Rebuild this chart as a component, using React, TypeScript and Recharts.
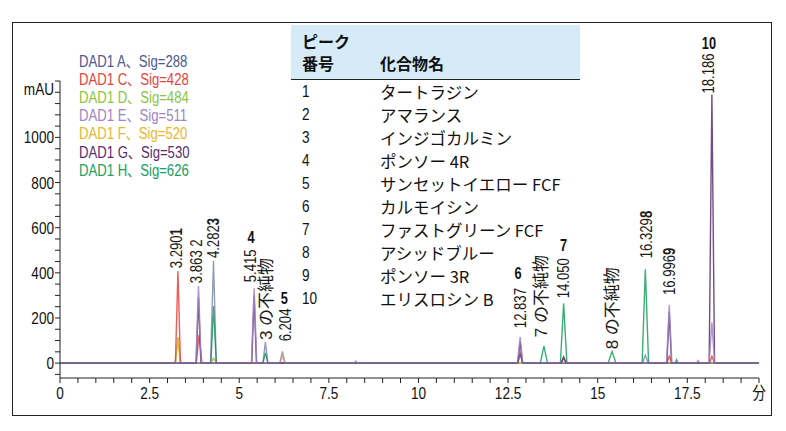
import React from 'react'
import { LineChart, Line, XAxis, YAxis, ReferenceDot } from 'recharts'

const FONT = "'Liberation Sans', 'Noto Sans CJK JP', sans-serif"
const JP = "'Noto Sans CJK JP', sans-serif"
const SQ = 0.8 // horizontal squeeze to mimic a condensed face

// retention time (min), signal (mAU)
const sigA: [number, number][] = [
    [0, 0], [4.2, 0], [4.282, 452], [4.36, 0], [5.66, 0], [5.73, 93], [5.8, 0],
    [12.77, 0], [12.837, 40], [12.91, 0], [16.25, 0], [16.329, 35], [16.41, 0], [19.5, 0],
]
const sigC: [number, number][] = [
    [0, 0], [3.22, 0], [3.29, 407], [3.36, 0], [3.8, 0], [3.88, 125], [3.96, 0],
    [12.77, 0], [12.837, 42], [12.91, 0], [13.98, 0], [14.05, 22], [14.12, 0],
    [16.93, 0], [16.996, 30], [17.07, 0], [18.12, 0], [18.186, 30], [18.26, 0], [19.5, 0],
]
const sigD: [number, number][] = [
    [0, 0], [3.21, 0], [3.29, 115], [3.37, 0], [4.21, 0], [4.282, 22], [4.36, 0], [19.5, 0],
]
const sigE: [number, number][] = [
    [0, 0], [3.79, 0], [3.863, 341], [3.94, 0], [5.34, 0], [5.415, 332], [5.49, 0],
    [6.13, 0], [6.204, 52], [6.28, 0], [8.2, 0], [8.25, 9], [8.3, 0],
    [12.76, 0], [12.837, 115], [12.91, 0], [16.92, 0], [16.996, 257], [17.07, 0],
    [17.75, 0], [17.8, 12], [17.85, 0], [18.11, 0], [18.186, 180], [18.26, 0], [19.5, 0],
]
const sigF: [number, number][] = [
    [0, 0], [3.22, 0], [3.29, 110], [3.36, 0], [6.14, 0], [6.204, 30], [6.27, 0], [19.5, 0],
]
const sigG: [number, number][] = [
    [0, 0], [3.8, 0], [3.863, 290], [3.93, 0], [5.35, 0], [5.415, 300], [5.48, 0],
    [12.77, 0], [12.837, 95], [12.9, 0], [13.98, 0], [14.05, 28], [14.12, 0],
    [16.93, 0], [16.996, 225], [17.06, 0], [18.11, 0], [18.186, 1190], [18.26, 0], [19.5, 0],
]
const sigH: [number, number][] = [
    [0, 0], [4.21, 0], [4.282, 252], [4.36, 0], [5.66, 0], [5.73, 45], [5.8, 0],
    [13.4, 0], [13.5, 75], [13.6, 0], [13.96, 0], [14.05, 265], [14.14, 0],
    [15.29, 0], [15.4, 52], [15.51, 0], [16.24, 0], [16.329, 416], [16.42, 0],
    [17.16, 0], [17.2, 15], [17.24, 0], [19.5, 0],
]

const signalNames = [
    'DAD1 A、Sig=288',
    'DAD1 C、Sig=428',
    'DAD1 D、Sig=484',
    'DAD1 E、Sig=511',
    'DAD1 F、Sig=520',
    'DAD1 G、Sig=530',
    'DAD1 H、Sig=626',
]
const signalData = [sigA, sigC, sigD, sigE, sigF, sigG, sigH]
const signalColors = ['#4b5a8c', '#e8433b', '#8bc540', '#9c84c6', '#e9b62e', '#5a2d6e', '#17a05e']
const drawOrder = [6, 2, 4, 1, 5, 3, 0]

const peakNos = ['1', '2', '3', '4', '5', '6', '7', '8', '9', '10']
const compoundNames = [
    'タートラジン',
    'アマランス',
    'インジゴカルミン',
    'ポンソー 4R',
    'サンセットイエロー FCF',
    'カルモイシン',
    'ファストグリーン FCF',
    'アシッドブルー',
    'ポンソー 3R',
    'エリスロシン B',
]

// peak annotations: apex time / height, retention label, peak number
const peakLabels = [
    { t: 3.29, v: 407, text: '3.290', num: '1' },
    { t: 3.863, v: 341, text: '3.863 ', num: '2' },
    { t: 4.282, v: 452, text: '4.282', num: '3' },
    { t: 5.415, v: 332, text: '5.415', num: '4' },
    { t: 5.73, v: 93, text: '3 の不純物', num: '' },
    { t: 6.204, v: 52, text: '6.204', num: '5' },
    { t: 12.837, v: 115, text: '12.837', num: '6' },
    { t: 13.5, v: 75, text: '7 の不純物', num: '' },
    { t: 14.05, v: 265, text: '14.050', num: '7' },
    { t: 15.4, v: 52, text: '8 の不純物', num: '' },
    { t: 16.329, v: 416, text: '16.329', num: '8' },
    { t: 16.996, v: 257, text: '16.996', num: '9' },
    { t: 18.186, v: 1190, text: '18.186', num: '10' },
]
// layout of each annotation (px)
const labelLayout: any[] = [
    { gap: 3, dx: -1, inline: true, bold: true },
    { gap: 3, dx: -2, inline: true, bold: false },
    { gap: 3, dx: 0, inline: true, bold: true },
    { gap: 6, dx: -4, numDx: -3, numDy: 51 },
    { gap: 2, dx: 1, jp: true },
    { gap: 10, dx: 3, numDx: 2, numDy: 54 },
    { gap: 9, dx: 0, numDx: -2, numDy: 64 },
    { gap: 9, dx: -2, jp: true },
    { gap: 5, dx: 0, numDx: 0, numDy: 59 },
    { gap: 2, dx: 0, jp: true },
    { gap: 11, dx: 1, inline: true, bold: true },
    { gap: 10, dx: 0, inline: true, bold: true },
    { gap: 1, dx: -3, numDx: -3, numDy: 52 },
]

const xTicks = Array.from({ length: 40 }, (_, i) => i * 0.5)
const yTicks = Array.from({ length: 27 }, (_, i) => -50 + i * 50)

const PeakLabel = ({ cx, cy, idx }: { cx: number; cy: number; idx: number }) => {
    const lab = peakLabels[idx]
    const lay = labelLayout[idx]
    const x = cx + lay.dx + 5.5
    const y = cy - lay.gap
    const sq = lay.jp ? 1 : 0.82
    return (
        <g>
            <text
                transform={`translate(${x} ${y}) rotate(-90) scale(${sq} 1)`}
                fontSize={lay.jp ? 17 : 16}
                fontFamily={FONT}
                fill={'#1a1a1a'}
            >
                {lab.text}
                {lay.inline && <tspan fontWeight={lay.bold ? 700 : 400}>{lab.num}</tspan>}
            </text>
            {!lay.inline && lab.num && (
                <text
                    transform={`translate(${cx + lay.numDx} ${cy - lay.numDy}) scale(0.75 1)`}
                    textAnchor={'middle'}
                    dominantBaseline={'central'}
                    fontWeight={700}
                    fontSize={17}
                    fontFamily={FONT}
                    fill={'#111'}
                >
                    {lab.num}
                </text>
            )}
        </g>
    )
}

const XTick = (props: any) => {
    const { x, y, payload } = props
    const v = payload.value
    const label = v === 19.5 ? '分' : v % 2.5 === 0 ? String(v) : ''
    if (!label) return null
    return (
        <text transform={`translate(${x} ${y + 8}) scale(${SQ} 1)`} textAnchor={'middle'} dominantBaseline={'central'} fontSize={17} fontFamily={FONT} fill={'#111'}>
            {label}
        </text>
    )
}

const YTick = (props: any) => {
    const { x, y, payload } = props
    const v = payload.value
    let label = ''
    if (v === 1250) label = 'mAU'
    else if (v >= 0 && v <= 1000 && v % 200 === 0) label = String(v)
    if (!label) return null
    return (
        <text transform={`translate(${x} ${y + (v === 1250 ? 8 : 0)}) scale(${SQ} 1)`} textAnchor={'end'} dominantBaseline={'central'} fontSize={17} fontFamily={FONT} fill={'#111'}>
            {label}
        </text>
    )
}

const squeeze = (s: number): React.CSSProperties => ({ transform: `scaleX(${s})`, transformOrigin: 'left center' })

const App = () => {
    return (
        <div style={{ position: 'absolute', left: 0, top: 0, width: 786, height: 431, background: '#fff', overflow: 'hidden' }}>
            <LineChart width={786} height={431} margin={{ top: 81, right: 27, bottom: 23, left: 10 }}>
                <XAxis
                    dataKey={'t'}
                    type={'number'}
                    domain={[0, 19.5]}
                    ticks={xTicks}
                    interval={0}
                    allowDataOverflow
                    height={30}
                    tickSize={5}
                    tickMargin={2}
                    stroke={'#222'}
                    tick={<XTick />}
                />
                <YAxis
                    type={'number'}
                    domain={[-66, 1250]}
                    ticks={yTicks}
                    interval={0}
                    allowDataOverflow
                    width={50}
                    tickSize={5}
                    tickMargin={1}
                    stroke={'#222'}
                    tick={<YTick />}
                />
                {drawOrder.map(i => (
                    <Line
                        key={signalNames[i]}
                        data={signalData[i].map(([t, v]) => ({ t, v }))}
                        dataKey={'v'}
                        type={'linear'}
                        stroke={signalColors[i]}
                        strokeWidth={1.4}
                        strokeOpacity={i === 0 ? 0.6 : 0.85}
                        dot={false}
                        activeDot={false}
                        isAnimationActive={false}
                    />
                ))}
                {peakLabels.map((p, i) => (
                    <ReferenceDot
                        key={p.text}
                        x={p.t}
                        y={p.v}
                        r={0}
                        ifOverflow={'visible'}
                        shape={(props: any) => <PeakLabel cx={props.cx} cy={props.cy} idx={i} />}
                    />
                ))}
            </LineChart>

            {/* legend */}
            {signalNames.map((name, i) => (
                <div
                    key={name}
                    style={{
                        position: 'absolute',
                        left: 79,
                        top: 53 + i * 18.1,
                        fontFamily: FONT,
                        fontSize: 16,
                        lineHeight: '18px',
                        height: 18,
                        color: signalColors[i],
                        whiteSpace: 'nowrap',
                        ...squeeze(0.82),
                    }}
                >
                    {name}
                </div>
            ))}

            {/* compound table */}
            <div
                style={{
                    position: 'absolute',
                    left: 291,
                    top: 25,
                    width: 289,
                    height: 54,
                    background: '#d6ebf8',
                    borderBottom: '1.5px solid #222',
                }}
            />
            <div style={{ position: 'absolute', left: 302, top: 31, fontFamily: JP, fontWeight: 700, fontSize: 16, lineHeight: '20px', color: '#111' }}>
                ピーク
            </div>
            <div style={{ position: 'absolute', left: 302, top: 53, fontFamily: JP, fontWeight: 700, fontSize: 16, lineHeight: '20px', color: '#111' }}>
                番号
            </div>
            <div style={{ position: 'absolute', left: 380, top: 53, fontFamily: JP, fontWeight: 700, fontSize: 16, lineHeight: '20px', color: '#111' }}>
                化合物名
            </div>
            {peakNos.map((n, i) => (
                <React.Fragment key={n}>
                    <div
                        style={{
                            position: 'absolute',
                            left: 302,
                            top: 81.5 + i * 23,
                            fontFamily: FONT,
                            fontSize: 17,
                            lineHeight: '20px',
                            color: '#111',
                            ...squeeze(SQ),
                        }}
                    >
                        {n}
                    </div>
                    <div style={{ position: 'absolute', left: 380, top: 81.5 + i * 23, fontFamily: JP, fontSize: 16.5, lineHeight: '20px', color: '#111', whiteSpace: 'nowrap' }}>
                        {compoundNames[i]}
                    </div>
                </React.Fragment>
            ))}

            {/* frame */}
            <div
                style={{
                    position: 'absolute',
                    left: 12,
                    top: 22,
                    width: 758,
                    height: 392,
                    border: '1.5px solid #222',
                    pointerEvents: 'none',
                }}
            />
        </div>
    )
}

export default App
